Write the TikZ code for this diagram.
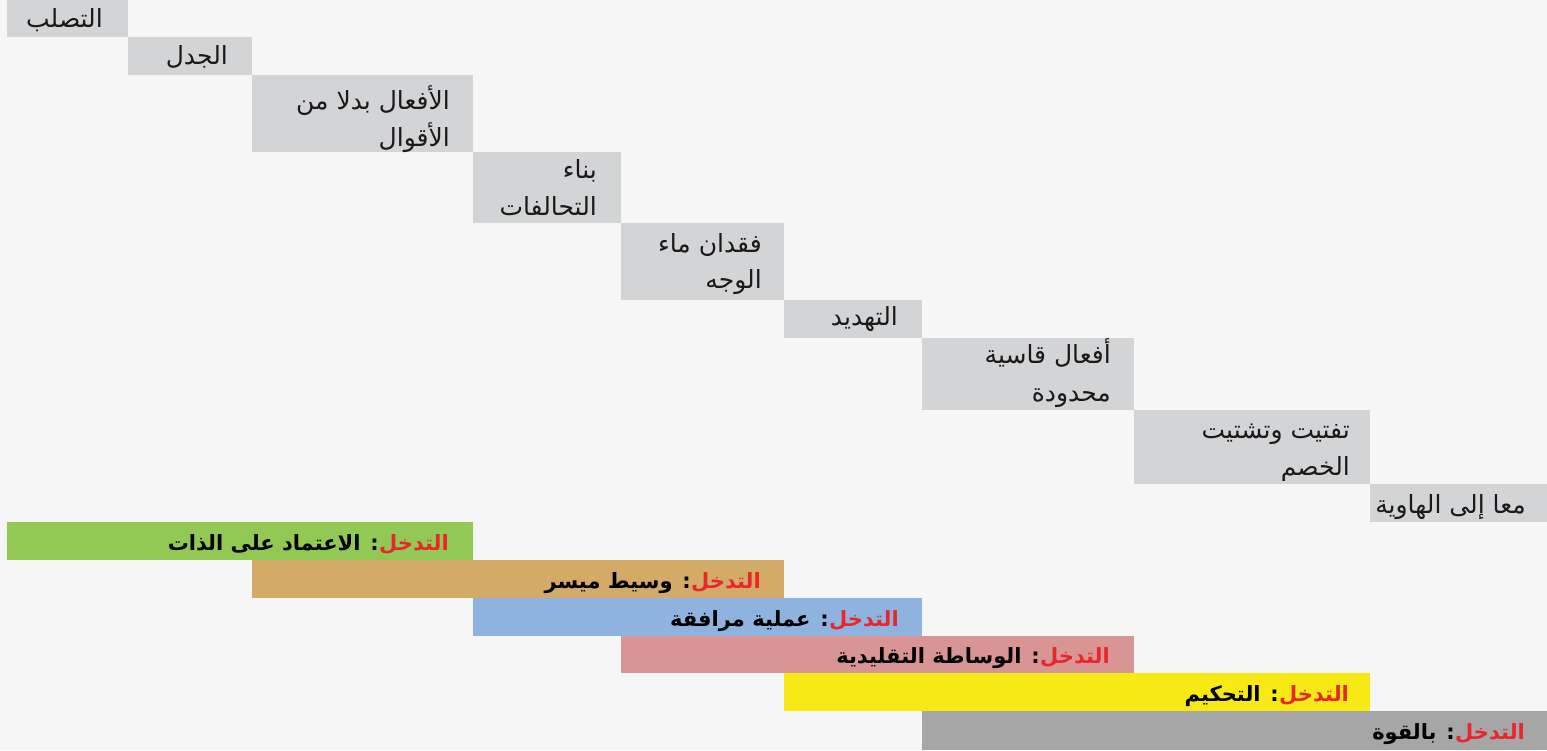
\documentclass[tikz,border=0pt]{standalone}
\usepackage{fontspec}
\TeXXeTstate=1
\newfontfamily\arabicfont[Script=Arabic]{DejaVu Sans}
\newcommand\artxt[1]{{\arabicfont\beginR #1\endR}}
\definecolor{bgc}{HTML}{F6F6F6}
\definecolor{boxgray}{HTML}{D3D4D6}
\definecolor{bgreen}{HTML}{92C954}
\definecolor{btan}{HTML}{D3AA68}
\definecolor{bblue}{HTML}{8EB3DF}
\definecolor{bpink}{HTML}{D99594}
\definecolor{byellow}{HTML}{F7EA14}
\definecolor{bgrey}{HTML}{A6A6A6}
\definecolor{tred}{HTML}{E8262B}
\definecolor{tdark}{HTML}{1A1A1A}
\tikzset{
  stepbox/.style={fill=boxgray, draw=none, inner sep=0, anchor=north west},
  barbox/.style={draw=none, inner sep=0, anchor=north west},
  steptext/.style={anchor=base east, inner sep=0, text=tdark, font=\fontsize{25}{29}\selectfont},
  bartext/.style={anchor=base east, inner sep=0, text=black, font=\fontsize{21}{25}\selectfont\bfseries},
  redtext/.style={bartext, text=tred},
}
\begin{document}
\begin{tikzpicture}[x=1pt,y=-1pt]
\fill[bgc] (0,0) rectangle (1547,750);
\useasboundingbox (0,0) rectangle (1547,750);
% staircase boxes
\node[stepbox, minimum width=121pt, minimum height=37pt] (s1) at (7,0) {};
\node[stepbox, minimum width=124pt, minimum height=38pt] (s2) at (128,37) {};
\node[stepbox, minimum width=221pt, minimum height=77pt] (s3) at (252,75) {};
\node[stepbox, minimum width=148pt, minimum height=71pt] (s4) at (473,152) {};
\node[stepbox, minimum width=163pt, minimum height=77pt] (s5) at (621,223) {};
\node[stepbox, minimum width=138pt, minimum height=38pt] (s6) at (784,300) {};
\node[stepbox, minimum width=212pt, minimum height=72pt] (s7) at (922,338) {};
\node[stepbox, minimum width=236pt, minimum height=74pt] (s8) at (1134,410) {};
\node[stepbox, minimum width=177pt, minimum height=38pt] (s9) at (1370,484) {};
% staircase texts
\node[steptext] (t1) at (103,27) {\artxt{التصلب}};
\node[steptext] (t2) at (228,64) {\artxt{الجدل}};
\node[steptext] (t3a) at (450,109) {\artxt{الأفعال بدلا من}};
\node[steptext] (t3b) at (450,146) {\artxt{الأقوال}};
\node[steptext] (t4a) at (597,178) {\artxt{بناء}};
\node[steptext] (t4b) at (597,215) {\artxt{التحالفات}};
\node[steptext] (t5a) at (762,252) {\artxt{فقدان ماء}};
\node[steptext] (t5b) at (762,288) {\artxt{الوجه}};
\node[steptext] (t6) at (898,325) {\artxt{التهديد}};
\node[steptext] (t7a) at (1111,363) {\artxt{أفعال قاسية}};
\node[steptext] (t7b) at (1111,401) {\artxt{محدودة}};
\node[steptext] (t8a) at (1350,438) {\artxt{تفتيت وتشتيت}};
\node[steptext] (t8b) at (1350,475) {\artxt{الخصم}};
\node[steptext] (t9) at (1526,513) {\artxt{معا إلى الهاوية}};
% intervention bars
\node[barbox, fill=bgreen, minimum width=466pt, minimum height=38pt] (g1) at (7,522) {};
\node[barbox, fill=btan, minimum width=532pt, minimum height=38pt] (g2) at (252,560) {};
\node[barbox, fill=bblue, minimum width=449pt, minimum height=38pt] (g3) at (473,598) {};
\node[barbox, fill=bpink, minimum width=513pt, minimum height=37pt] (g4) at (621,636) {};
\node[barbox, fill=byellow, minimum width=586pt, minimum height=38pt] (g5) at (784,673) {};
\node[barbox, fill=bgrey, minimum width=625pt, minimum height=39pt] (g6) at (922,711) {};
\node[redtext] (r1) at (449,550) {\artxt{التدخل}};
\node[bartext] (u1) at (r1.base west) {\artxt{: الاعتماد على الذات}};
\node[redtext] (r2) at (761,588) {\artxt{التدخل}};
\node[bartext] (u2) at (r2.base west) {\artxt{: وسيط ميسر}};
\node[redtext] (r3) at (899,626) {\artxt{التدخل}};
\node[bartext] (u3) at (r3.base west) {\artxt{: عملية مرافقة}};
\node[redtext] (r4) at (1110,663) {\artxt{التدخل}};
\node[bartext] (u4) at (r4.base west) {\artxt{: الوساطة التقليدية}};
\node[redtext] (r5) at (1349,701) {\artxt{التدخل}};
\node[bartext] (u5) at (r5.base west) {\artxt{: التحكيم}};
\node[redtext] (r6) at (1525,739) {\artxt{التدخل}};
\node[bartext] (u6) at (r6.base west) {\artxt{: بالقوة}};
\end{tikzpicture}
\end{document}
